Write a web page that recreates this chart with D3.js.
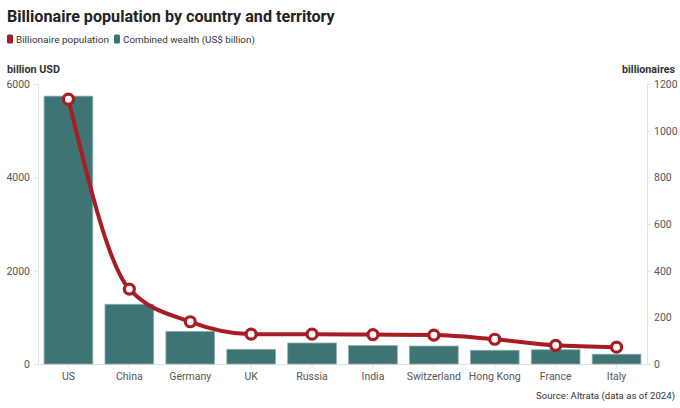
<!DOCTYPE html>
<html>
<head>
<meta charset="utf-8">
<script src="https://cdn.jsdelivr.net/npm/d3@7"></script>
<style>
  body { margin: 0; background: #fff; }
  svg { display: block; }
</style>
</head>
<body>
<script>
// data
const countries = ["US", "China", "Germany", "UK", "Russia", "India", "Switzerland", "Hong Kong", "France", "Italy"];
const wealth = [5740, 1280, 700, 315, 450, 395, 385, 295, 305, 210];
const population = [1135, 321, 181, 128, 128, 126, 124, 106, 80, 72];
const leftTicks = [0, 2000, 4000, 6000];
const rightTicks = [0, 200, 400, 600, 800, 1000, 1200];

let canvasW = 680;
let canvasH = 408;
let plotL = 38, plotR = 647, plotT = 84, plotB = 364;

const red = "#a81c24";
const teal = "#3e7474";
const font = "Roboto, 'Open Sans', sans-serif";

let svg = d3.select("body").append("svg")
  .attr("width", canvasW)
  .attr("height", canvasH);

// shrink/grow font so the text spans roughly the width seen in the reference
function fit(sel, w) {
  let size = parseFloat(sel.attr("font-size"));
  let len = sel.node().getComputedTextLength();
  sel.attr("font-size", (size * w / len).toFixed(2) + "px");
  return sel;
}

let x = d3.scaleBand().domain(countries).range([plotL, plotR]).paddingInner(0.2).paddingOuter(0.1);
let yL = d3.scaleLinear().domain([0, 6000]).range([plotB, plotT]);
let yR = d3.scaleLinear().domain([0, 1200]).range([plotB, plotT]);

// title + legend
let title = svg.append("text")
  .attr("x", 7).attr("y", 22)
  .attr("font-family", font).attr("font-weight", 700)
  .attr("font-size", "17px").attr("fill", "#222")
  .text("Billionaire population by country and territory");
fit(title, 328);

svg.append("rect").attr("x", 7).attr("y", 34.5).attr("width", 6).attr("height", 9).attr("rx", 1.5).attr("fill", red);
fit(svg.append("text").attr("x", 16).attr("y", 43)
  .attr("font-family", font).attr("font-size", "11px").attr("fill", "#333")
  .text("Billionaire population"), 93);
svg.append("rect").attr("x", 114).attr("y", 34.5).attr("width", 6).attr("height", 9).attr("rx", 1.5).attr("fill", teal);
fit(svg.append("text").attr("x", 123).attr("y", 43)
  .attr("font-family", font).attr("font-size", "11px").attr("fill", "#333")
  .text("Combined wealth (US$ billion)"), 132);

// axis titles
fit(svg.append("text").attr("x", 7).attr("y", 73)
  .attr("font-family", font).attr("font-weight", 700).attr("font-size", "11px").attr("fill", "#333")
  .text("billion USD"), 53);
fit(svg.append("text").attr("x", 675).attr("y", 73).attr("text-anchor", "end")
  .attr("font-family", font).attr("font-weight", 700).attr("font-size", "11px").attr("fill", "#333")
  .text("billionaires"), 53);

// axes
let axL = svg.append("g").attr("transform", `translate(${plotL},0)`)
  .call(d3.axisLeft(yL).tickValues(leftTicks).tickSize(4).tickPadding(4).tickFormat(d3.format("d")));
let axR = svg.append("g").attr("transform", `translate(${plotR},0)`)
  .call(d3.axisRight(yR).tickValues(rightTicks).tickSize(4).tickPadding(3).tickFormat(d3.format("d")));
let axB = svg.append("g").attr("transform", `translate(0,${plotB})`)
  .call(d3.axisBottom(x).tickSize(4).tickPadding(5));

[axL, axR, axB].forEach(a => {
  a.selectAll("path, line").attr("stroke", "#e2e2e2");
  a.selectAll("text").attr("font-family", font).attr("font-size", "10.5px").attr("fill", "#555");
});
axB.select(".domain").attr("d", `M${plotL},0.5H${plotR}`);

// bars
svg.selectAll("rect.bar")
  .data(countries)
  .enter()
  .append("rect")
    .attr("class", "bar")
    .attr("x", d => x(d))
    .attr("y", (d, i) => yL(wealth[i]))
    .attr("width", x.bandwidth())
    .attr("height", (d, i) => plotB - yL(wealth[i]))
    .attr("fill", teal)
    .attr("stroke", "#8fb0b0")
    .attr("stroke-width", 0.8);

// line
let line = d3.line()
  .x((d, i) => x(countries[i]) + x.bandwidth() / 2)
  .y(d => yR(d))
  .curve(d3.curveMonotoneX);

svg.append("path")
  .datum(population)
  .attr("d", line)
  .attr("fill", "none")
  .attr("stroke", red)
  .attr("stroke-width", 4);

svg.selectAll("circle.pt")
  .data(population)
  .enter()
  .append("circle")
    .attr("class", "pt")
    .attr("cx", (d, i) => x(countries[i]) + x.bandwidth() / 2)
    .attr("cy", d => yR(d))
    .attr("r", 5)
    .attr("fill", "#fff")
    .attr("stroke", red)
    .attr("stroke-width", 3.2);

// source
fit(svg.append("text").attr("x", 675).attr("y", 399).attr("text-anchor", "end")
  .attr("font-family", font).attr("font-size", "11px").attr("fill", "#333")
  .text("Source: Altrata (data as of 2024)"), 139);
</script>
</body>
</html>
